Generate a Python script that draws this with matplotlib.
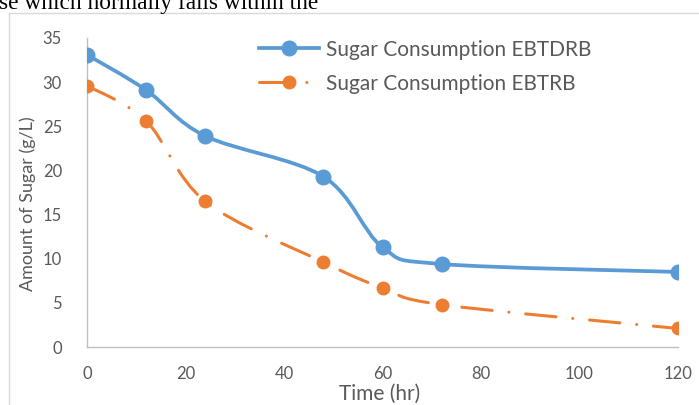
import matplotlib
import numpy as np

matplotlib.use("Agg")
import matplotlib.pyplot as plt
from matplotlib.path import Path
from matplotlib.patches import PathPatch
from matplotlib.lines import Line2D

plt.rcParams["font.family"] = ["Lato", "DejaVu Sans"]

time_hr = [0, 12, 24, 48, 60, 72, 120]
sugar_ebtdrb = [33.1, 29.1, 23.9, 19.3, 11.3, 9.4, 8.5]
sugar_ebtrb = [29.6, 25.6, 16.5, 9.6, 6.7, 4.8, 2.1]

label_ebtdrb = "Sugar Consumption EBTDRB"
label_ebtrb = "Sugar Consumption EBTRB"

blue = "#5B9BD5"
orange = "#ED7D31"
grey_text = "#595959"
grey_axis = "#BFBFBF"
dash_dot = (0, (10, 5.5, 0.01, 5.5))


def smooth_path(xs, ys):
    # Catmull-Rom style bezier through every point (like a spreadsheet "smoothed line")
    pts = np.column_stack([xs, ys]).astype(float)
    ext = np.vstack([pts[0], pts, pts[-1]])
    verts = [tuple(pts[0])]
    codes = [Path.MOVETO]
    for i in range(1, len(ext) - 2):
        p0, p1, p2, p3 = ext[i - 1], ext[i], ext[i + 1], ext[i + 2]
        c1 = p1 + (p2 - p0) / 6.0
        c2 = p2 - (p3 - p1) / 6.0
        verts += [tuple(c1), tuple(c2), tuple(p2)]
        codes += [Path.CURVE4] * 3
    return Path(verts, codes)


fig = plt.figure(figsize=(6.99, 4.05), dpi=100)
ax = fig.add_axes([87 / 699, 58 / 405, (678 - 87) / 699, (347 - 38) / 405])

ax.add_patch(PathPatch(smooth_path(time_hr, sugar_ebtdrb), fill=False,
                       edgecolor=blue, linewidth=2.7, capstyle="round", zorder=2))
ax.add_patch(PathPatch(smooth_path(time_hr, sugar_ebtrb), fill=False,
                       edgecolor=orange, linewidth=2.2, capstyle="round",
                       linestyle=dash_dot, zorder=2))
ax.plot(time_hr, sugar_ebtdrb, "o", color=blue, markersize=10.5, zorder=3)
ax.plot(time_hr, sugar_ebtrb, "o", color=orange, markersize=9, zorder=3)

ax.set_xlim(0, 120)
ax.set_ylim(0, 35)
ax.set_xticks(range(0, 121, 20))
ax.set_yticks(range(0, 36, 5))
ax.tick_params(length=0, labelsize=12, labelcolor=grey_text)
ax.tick_params(axis="x", pad=14)
ax.tick_params(axis="y", pad=18)
for side in ("top", "right"):
    ax.spines[side].set_visible(False)
for side in ("left", "bottom"):
    ax.spines[side].set_color(grey_axis)
    ax.spines[side].set_linewidth(1.0)

ax.set_xlabel("Time (hr)", fontsize=15, color=grey_text, va="center")
ax.set_ylabel("Amount of Sugar (g/L)", fontsize=13, color=grey_text, va="center")
ax.xaxis.set_label_coords((380 - 87) / 591, -(394 - 347) / 309)
ax.yaxis.set_label_coords((28 - 87) / 591, (347 - 204) / 309)

handles = [
    Line2D([], [], color=blue, linewidth=2.7, marker="o", markersize=10.5),
    Line2D([], [], color=orange, linewidth=2.2, marker="o", markersize=9,
           linestyle=dash_dot, dash_capstyle="round"),
]
ax.legend(handles, [label_ebtdrb, label_ebtrb], loc="upper left",
          bbox_to_anchor=(259 / 699, 1 - 39.5 / 405), bbox_transform=fig.transFigure,
          frameon=False, fontsize=15, labelcolor=grey_text, handlelength=2.9,
          handletextpad=0.3, labelspacing=0.68, borderpad=0, borderaxespad=0)

# surrounding chart frame and the page text above it
fig.add_artist(Line2D([8.5 / 699, 8.5 / 699], [0, 1 - 13 / 405],
                      transform=fig.transFigure, color="#D9D9D9", linewidth=1))
fig.add_artist(Line2D([8.5 / 699, 1], [1 - 13 / 405, 1 - 13 / 405],
                      transform=fig.transFigure, color="#D9D9D9", linewidth=1))
fig.text(-1 / 699, 1 - 8.5 / 405, "se which normally falls within the",
         family="Liberation Serif", fontsize=16.8, color="black", va="baseline")

fig.savefig("out.png", dpi=100)
